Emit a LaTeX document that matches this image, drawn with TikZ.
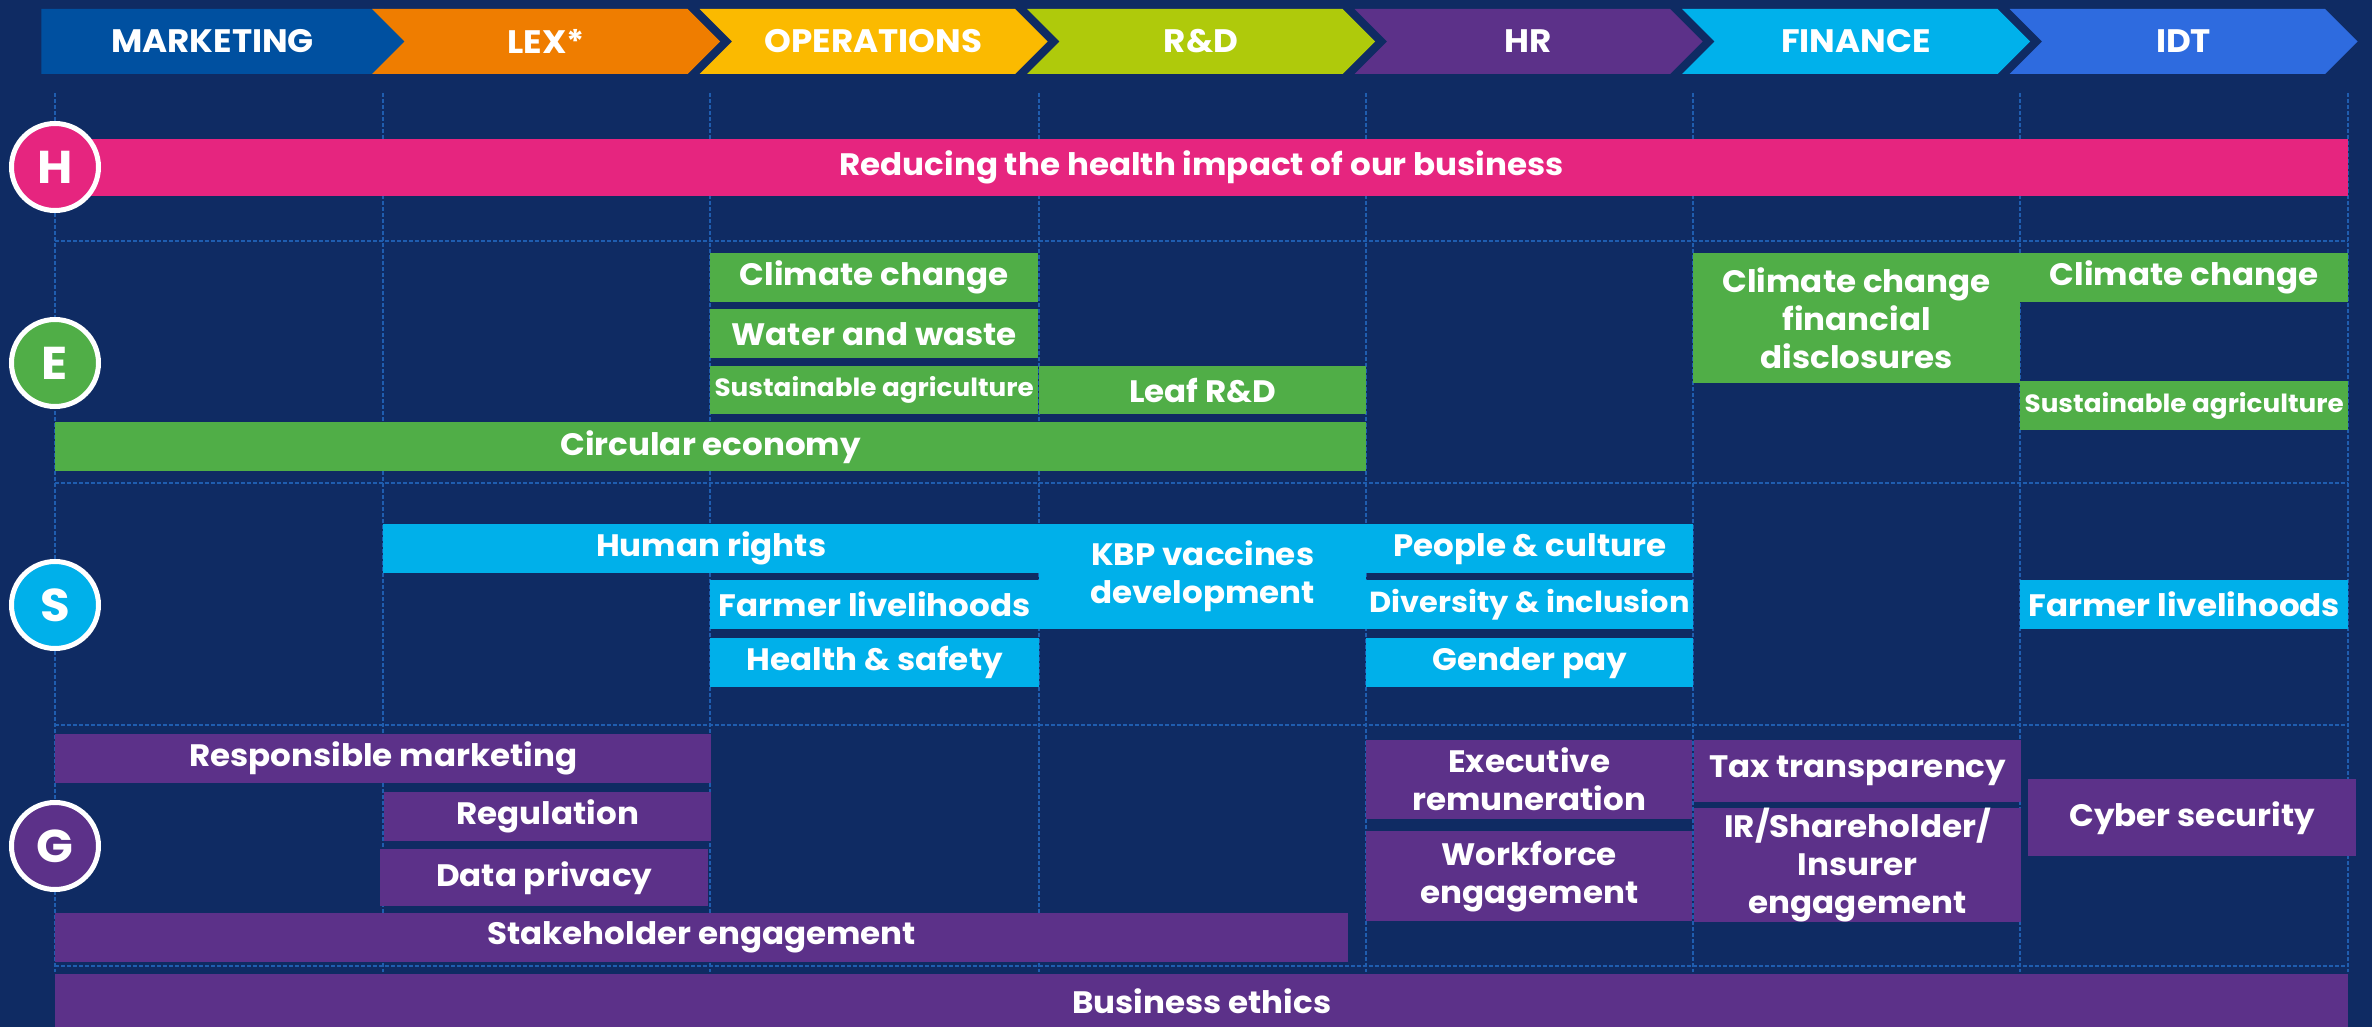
\documentclass[tikz,border=0pt]{standalone}
\usepackage{fontspec}
\setmainfont{Poppins}[FakeStretch=1.05]
\usepackage{xcolor}
\definecolor{bg}{HTML}{0F2B63}
\definecolor{gridblue}{HTML}{1F5DAF}
\definecolor{hpink}{HTML}{E6257F}
\definecolor{egreen}{HTML}{50AE47}
\definecolor{scyan}{HTML}{00B0EA}
\definecolor{gpurple}{HTML}{5C3189}
\definecolor{mkt}{HTML}{0050A0}
\definecolor{lex}{HTML}{EF7D00}
\definecolor{ops}{HTML}{FBBA00}
\definecolor{rnd}{HTML}{AFCA0B}
\definecolor{hr}{HTML}{5C3189}
\definecolor{fin}{HTML}{00B1EB}
\definecolor{idt}{HTML}{2E6BDF}
\usepackage{tikz}
\usetikzlibrary{shapes,shapes.symbols}
\usetikzlibrary{positioning}
\newcommand{\deptfont}{\bfseries\fontsize{32.5}{36}\selectfont}
\newcommand{\issuefont}{\bfseries\fontsize{31}{38}\selectfont}
\newcommand{\tightissuefont}{\bfseries\fontsize{29}{36}\selectfont}
\newcommand{\smallissuefont}{\bfseries\fontsize{25}{28}\selectfont}
\newcommand{\letterfont}{\bfseries\fontsize{46}{50}\selectfont}
\tikzstyle{dept} = [signal, signal to=east, signal from=west, signal pointer angle=90,
    minimum width=348, minimum height=65, inner sep=0pt, text=white, font=\deptfont]
\tikzstyle{issue} = [rectangle, anchor=north west, inner sep=0pt, text=white,
    align=center, font=\issuefont]
\tikzstyle{pillar} = [circle, draw=white, line width=5, minimum size=87,
    inner sep=0pt, text=white, font=\letterfont]
\tikzstyle{gridline} = [draw=gridblue, line width=1.3, dash pattern=on 4 off 2]

\begin{document}
\begin{tikzpicture}[x=1pt, y=-1pt, node distance=327.5]

\useasboundingbox (0,0) rectangle (2372,1027);
\fill[bg] (0,0) rectangle (2372,1027);

    % Department header
    \node [dept, fill=mkt, signal from=nowhere, minimum width=375] (marketing) at (212.5,41.5) {MARKETING};
    \node [dept, fill=lex] (lexdept) at (546,41.5) {LEX*};
    \node [dept, fill=ops, right of=lexdept] (operations) {OPERATIONS};
    \node [dept, fill=rnd, right of=operations] (rnddept) {R\&D};
    \node [dept, fill=hr, right of=rnddept] (hrdept) {HR};
    \node [dept, fill=fin, right of=hrdept] (finance) {FINANCE};
    \node [dept, fill=idt, right of=finance] (idtdept) {IDT};

    % Grid
    \path [gridline] (55,93) -- (55,972) (383,93) -- (383,972) (710,93) -- (710,972)
        (1039,93) -- (1039,972) (1366,93) -- (1366,972) (1693,93) -- (1693,972)
        (2020,93) -- (2020,972) (2348,93) -- (2348,972);
    \path [gridline] (55,241) -- (2348,241) (55,483) -- (2348,483)
        (55,725) -- (2348,725) (55,966) -- (2348,966);

    % H
    \node [issue, fill=hpink, minimum width=2293, minimum height=57] (healthbar) at (55,139) {Reducing the health impact of our business};

    % E
    \node [issue, fill=egreen, minimum width=328, minimum height=49] (climops) at (710,253) {Climate change};
    \node [issue, fill=egreen, minimum width=328, minimum height=49] (water) at (710,309) {Water and waste};
    \node [issue, fill=egreen, minimum width=328, minimum height=48, font=\smallissuefont] (sustops) at (710,366) {Sustainable agriculture};
    \node [issue, fill=egreen, minimum width=327, minimum height=48] (leaf) at (1039,366) {Leaf R\&D};
    \node [issue, fill=egreen, minimum width=1311, minimum height=49] (circular) at (55,422) {Circular economy};
    \node [issue, fill=egreen, minimum width=327, minimum height=130] (tcfd) at (1693,253) {Climate change\\financial\\disclosures};
    \node [issue, fill=egreen, minimum width=328, minimum height=49] (climidt) at (2020,253) {Climate change};
    \node [issue, fill=egreen, minimum width=328, minimum height=49, font=\smallissuefont] (sustidt) at (2020,381) {Sustainable agriculture};

    % S
    \node [issue, fill=scyan, minimum width=656, minimum height=49] (rights) at (383,524) {Human rights};
    \node [issue, fill=scyan, minimum width=327, minimum height=105] (kbp) at (1039,524) {KBP vaccines\\development};
    \node [issue, fill=scyan, minimum width=329, minimum height=49] (farmops) at (710,580) {Farmer livelihoods};
    \node [issue, fill=scyan, minimum width=329, minimum height=49] (safety) at (710,638) {Health \& safety};
    \node [issue, fill=scyan, minimum width=327, minimum height=49] (people) at (1366,524) {People \& culture};
    \node [issue, fill=scyan, minimum width=327, minimum height=49, font=\tightissuefont] (diversity) at (1366,580) {Diversity \& inclusion};
    \node [issue, fill=scyan, minimum width=327, minimum height=49] (genderpay) at (1366,638) {Gender pay};
    \node [issue, fill=scyan, minimum width=328, minimum height=49] (farmidt) at (2020,580) {Farmer livelihoods};

    % G
    \node [issue, fill=gpurple, minimum width=656, minimum height=49] (respmkt) at (55,734) {Responsible marketing};
    \node [issue, fill=gpurple, minimum width=327, minimum height=49] (regulation) at (384,792) {Regulation};
    \node [issue, fill=gpurple, minimum width=328, minimum height=57] (privacy) at (380,849) {Data privacy};
    \node [issue, fill=gpurple, minimum width=1293, minimum height=49] (stakeholder) at (55,913) {Stakeholder engagement};
    \node [issue, fill=gpurple, minimum width=326, minimum height=79] (execrem) at (1366,740) {Executive\\remuneration};
    \node [issue, fill=gpurple, minimum width=326, minimum height=90] (workforce) at (1366,831) {Workforce\\engagement};
    \node [issue, fill=gpurple, minimum width=327, minimum height=62] (tax) at (1694,740) {Tax transparency};
    \node [issue, fill=gpurple, minimum width=327, minimum height=113] (ireng) at (1694,808) {IR/Shareholder/\\Insurer\\engagement};
    \node [issue, fill=gpurple, minimum width=328, minimum height=77] (cyber) at (2028,779) {Cyber security};
    \node [issue, fill=gpurple, minimum width=2293, minimum height=54] (ethics) at (55,974) {Business ethics};

    % Pillars
    \node [pillar, fill=hpink] (pillarh) at (55,167) {H};
    \node [pillar, fill=egreen] (pillare) at (55,363) {E};
    \node [pillar, fill=scyan] (pillars) at (55,605) {S};
    \node [pillar, fill=gpurple] (pillarg) at (55,846) {G};

\end{tikzpicture}
\end{document}
